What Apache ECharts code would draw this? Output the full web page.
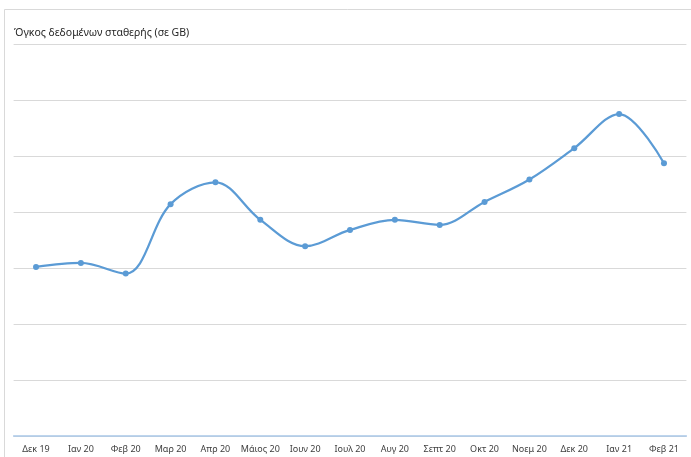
<!DOCTYPE html>
<html>
<head>
<meta charset="utf-8">
<script src="https://cdn.jsdelivr.net/npm/echarts@6/dist/echarts.min.js"></script>
<style>
  html, body { margin: 0; padding: 0; background: #fff; }
  #chart { width: 691px; height: 457px; }
</style>
</head>
<body>
<div id="chart"></div>
<script>
// μήνες
const months = ['Δεκ 19', 'Ιαν 20', 'Φεβ 20', 'Μαρ 20', 'Απρ 20', 'Μάιος 20', 'Ιουν 20', 'Ιουλ 20',
  'Αυγ 20', 'Σεπτ 20', 'Οκτ 20', 'Νοεμ 20', 'Δεκ 20', 'Ιαν 21', 'Φεβ 21'];
// όγκος δεδομένων (σχετική κλίμακα, χωρίς ετικέτες στον άξονα)
const volume = [3.02, 3.09, 2.90, 4.14, 4.53, 3.86, 3.39, 3.68, 3.86, 3.77, 4.18, 4.58, 5.14, 5.75, 4.87];

const chart = echarts.init(document.getElementById('chart'));
chart.setOption({
  animation: false,
  backgroundColor: '#fff',
  title: {
    text: 'Όγκος δεδομένων σταθερής (σε GB)',
    left: 9,
    top: 23,
    textStyle: { fontFamily: 'Noto Sans', fontSize: 10.5, fontWeight: 'normal', color: '#262626' }
  },
  // πλαίσιο
  graphic: [
    { type: 'line', shape: { x1: 4.5, y1: 9.5, x2: 691, y2: 9.5 }, style: { stroke: '#d9d9d9', lineWidth: 1 } },
    { type: 'line', shape: { x1: 4.5, y1: 9.5, x2: 4.5, y2: 457 }, style: { stroke: '#d9d9d9', lineWidth: 1 } }
  ],
  grid: { left: 13.6, right: 4.6, top: 44, bottom: 21, containLabel: false },
  xAxis: {
    type: 'category',
    data: months,
    boundaryGap: true,
    axisTick: { show: false },
    axisLine: { lineStyle: { color: '#a9c8e8', width: 1.5 } },
    axisLabel: { color: '#404040', fontFamily: 'Noto Sans', fontSize: 9, margin: 9, interval: 0 }
  },
  yAxis: {
    type: 'value',
    min: 0,
    max: 7,
    interval: 1,
    axisLabel: { show: false },
    axisLine: { show: false },
    axisTick: { show: false },
    splitLine: { lineStyle: { color: '#d9d9d9', width: 1 } }
  },
  series: [{
    type: 'line',
    data: volume,
    smooth: 0.35,
    symbol: 'circle',
    symbolSize: 6,
    lineStyle: { color: '#5b9bd5', width: 2.25 },
    itemStyle: { color: '#5b9bd5' }
  }]
});
</script>
</body>
</html>
